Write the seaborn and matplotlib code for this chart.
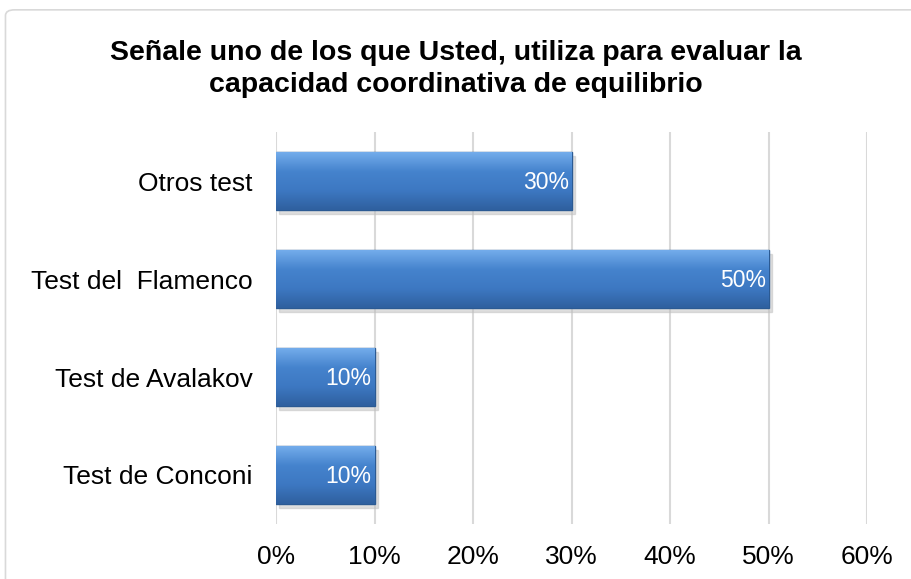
import numpy as np
import pandas as pd
import seaborn as sns
import matplotlib.pyplot as plt
from matplotlib.patches import FancyBboxPatch
from matplotlib.colors import LinearSegmentedColormap

# Chart data
categories = ['Otros test', 'Test del  Flamenco', 'Test de Avalakov', 'Test de Conconi']
values = [0.30, 0.50, 0.10, 0.10]
labels = ['30%', '50%', '10%', '10%']
xticks = [0, 0.1, 0.2, 0.3, 0.4, 0.5, 0.6]
xticklabels = ['0%', '10%', '20%', '30%', '40%', '50%', '60%']

df = pd.DataFrame({'test': categories, 'pct': values})

sns.set_style('white')
plt.rcParams['font.family'] = ['Liberation Sans', 'DejaVu Sans']
plt.rcParams['text.color'] = 'black'
plt.rcParams['xtick.color'] = 'black'
plt.rcParams['ytick.color'] = 'black'

fig = plt.figure(figsize=(9.11, 5.79), dpi=100)
ax = fig.add_axes([0.303, 0.095, 0.649, 0.677])

sns.barplot(data=df, x='pct', y='test', color='#3F7CC6', width=0.59,
            edgecolor='#2B5A93', linewidth=1.0, saturation=1, ax=ax, zorder=3)

# gradient look on the bars
grad = np.linspace(0, 1, 100).reshape(-1, 1)
cmap = LinearSegmentedColormap.from_list('b', ['#73ACEB', '#4583CD', '#3D78C2', '#2F609F'])
for p in list(ax.patches):
    x0, y0 = p.get_x(), p.get_y()
    w, h = p.get_width(), p.get_height()
    im = ax.imshow(grad, cmap=cmap, extent=[x0, x0 + w, y0 + h, y0],
                   aspect='auto', zorder=3.5, origin='upper')
    im.set_clip_path(p)
    # shadow
    ax.add_patch(plt.Rectangle((x0 + 0.003, y0 + 0.04), w, h, color='#BFBFBF',
                               alpha=0.5, zorder=2.5))

for i, lab in enumerate(labels):
    ax.text(values[i] - 0.003, i + 0.02, lab, color='white',
            ha='right', va='center', fontsize=16.5, zorder=5)

ax.set_xlim(0, 0.6)
ax.set_ylim(3.5, -0.5)
ax.set_xticks(xticks)
ax.set_xticklabels(xticklabels, fontsize=19)
ax.tick_params(axis='x', pad=15, length=0)
ax.tick_params(axis='y', pad=17, length=0, labelsize=19)
ax.set_xlabel('')
ax.set_ylabel('')
ax.grid(axis='x', color='#D9D9D9', linewidth=1.5, zorder=0)
ax.set_axisbelow(True)
for s in ax.spines.values():
    s.set_visible(False)

fig.text(0.5, 0.881, 'Señale uno de los que Usted, utiliza para evaluar la\ncapacidad coordinativa de equilibrio',
         ha='center', va='center', fontsize=20.5, fontweight='bold', linespacing=1.3)

border = FancyBboxPatch((0.006, -0.02), 1.05, 1.003, boxstyle='round,pad=0,rounding_size=0.01',
                        transform=fig.transFigure, facecolor='none', edgecolor='#D9D9D9',
                        linewidth=1.2, clip_on=False)
fig.patches.append(border)

fig.savefig('out.png', dpi=100)
